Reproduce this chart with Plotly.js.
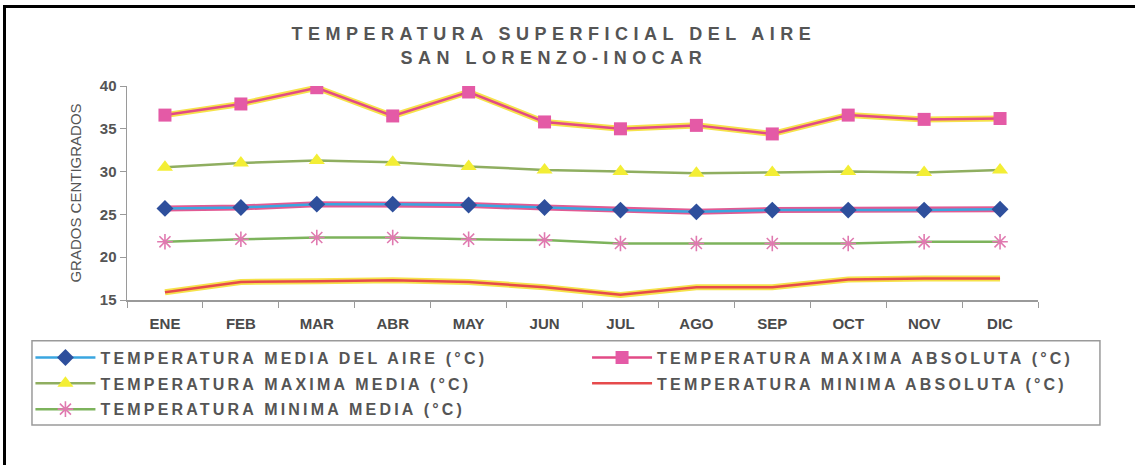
<!DOCTYPE html>
<html>
<head>
<meta charset="utf-8">
<script src="https://cdn.plot.ly/plotly-3.0.1.min.js"></script>
<style>
html,body{margin:0;padding:0;background:#fff;}
#chart{width:1135px;height:465px;}
#frame{position:absolute;left:3px;top:5px;width:1140px;height:470px;border-top:3px solid #000;border-left:3px solid #000;pointer-events:none;}
</style>
</head>
<body>
<div id="chart"></div>
<div id="frame"></div>
<script>
const months = ["ENE","FEB","MAR","ABR","MAY","JUN","JUL","AGO","SEP","OCT","NOV","DIC"];
const mediaAire   = [25.7, 25.8, 26.2, 26.2, 26.1, 25.8, 25.5, 25.3, 25.5, 25.5, 25.5, 25.6];
const maxAbsoluta = [36.6, 37.9, 39.8, 36.5, 39.3, 35.8, 35.0, 35.4, 34.4, 36.6, 36.1, 36.2];
const maxMedia    = [30.5, 31.0, 31.3, 31.1, 30.6, 30.2, 30.0, 29.8, 29.9, 30.0, 29.9, 30.2];
const minAbsoluta = [15.9, 17.1, 17.2, 17.3, 17.1, 16.5, 15.6, 16.5, 16.5, 17.4, 17.5, 17.5];
const minMedia    = [21.8, 22.1, 22.3, 22.3, 22.1, 22.0, 21.6, 21.6, 21.6, 21.6, 21.8, 21.8];
const seriesNames = [
  "TEMPERATURA MEDIA DEL AIRE (°C)",
  "TEMPERATURA MAXIMA ABSOLUTA (°C)",
  "TEMPERATURA MAXIMA MEDIA (°C)",
  "TEMPERATURA MINIMA ABSOLUTA (°C)",
  "TEMPERATURA MINIMA MEDIA (°C)"
];
const ls = t => '<span style="letter-spacing:3.2px">' + t + '</span>';

const traces = [
  // halos (no legend)
  {x: months, y: maxAbsoluta, mode: "lines", line: {color: "#f6e24a", width: 6}, showlegend: false, hoverinfo: "skip"},
  {x: months, y: minAbsoluta, mode: "lines", line: {color: "#f6e24a", width: 6}, showlegend: false, hoverinfo: "skip"},
  {x: months, y: mediaAire, mode: "lines", line: {color: "#e25a93", width: 6}, showlegend: false, hoverinfo: "skip"},
  // main series
  {x: months, y: mediaAire, name: ls(seriesNames[0]), mode: "lines+markers", legend: "legend", legendgroup: "a",
   line: {color: "#3aa6e0", width: 2.5},
   marker: {symbol: "diamond", size: 13, color: "#2e4f9c"}},
  {x: months, y: maxAbsoluta, name: ls(seriesNames[1]), mode: "lines+markers", legend: "legend2", legendgroup: "b",
   line: {color: "#e24a86", width: 2.5},
   marker: {symbol: "square", size: 13, color: "#e45aa6"}},
  {x: months, y: maxMedia, name: ls(seriesNames[2]), mode: "lines+markers", legend: "legend", legendgroup: "c",
   line: {color: "#8fae60", width: 2.5},
   marker: {symbol: "triangle-up", size: 14, color: "#f3ee35"}},
  {x: months, y: minAbsoluta, name: ls(seriesNames[3]), mode: "lines", legend: "legend2", legendgroup: "d",
   line: {color: "#e64a4c", width: 2.5}},
  {x: months, y: minMedia, name: ls(seriesNames[4]), mode: "lines+markers", legend: "legend", legendgroup: "e",
   line: {color: "#7db35c", width: 2.5},
   marker: {symbol: "asterisk-open", size: 13, color: "#e07ab0", line: {color: "#e07ab0", width: 1.6}}}
];

const legendFont = {family: "Liberation Sans, Arial, sans-serif", size: 16, color: "#555555", weight: "bold"};
const legendCommon = {
  orientation: "v", xanchor: "left", yanchor: "top",
  borderwidth: 0, bgcolor: "rgba(0,0,0,0)",
  itemwidth: 60, font: legendFont, tracegroupgap: 2, traceorder: "grouped"
};

const layout = {
  width: 1135, height: 465,
  margin: {l: 127, r: 97, t: 86, b: 165},
  paper_bgcolor: "#ffffff", plot_bgcolor: "#ffffff",
  title: {
    text: '<span style="letter-spacing:5.5px">TEMPERATURA SUPERFICIAL DEL AIRE</span><br><span style="letter-spacing:5.5px">SAN LORENZO-INOCAR</span>',
    x: 0.488, xanchor: "center", yref: "container", y: 0.913, yanchor: "top",
    font: {family: "Liberation Sans, Arial, sans-serif", size: 18, color: "#555555", weight: "bold"}
  },
  xaxis: {
    type: "category", range: [-0.5, 11.5],
    showline: true, linecolor: "#9a9a9a", linewidth: 1.5,
    ticks: "outside", tickson: "boundaries", ticklen: 6, tickcolor: "#9a9a9a",
    ticklabelstandoff: 9,
    showgrid: false, zeroline: false,
    tickfont: {family: "Liberation Sans, Arial, sans-serif", size: 15, color: "#4a4a4a", weight: "bold"}
  },
  yaxis: {
    range: [15, 40], dtick: 5,
    showline: true, linecolor: "#9a9a9a", linewidth: 1.5,
    ticks: "outside", ticklen: 6, tickcolor: "#9a9a9a",
    showgrid: false, zeroline: false,
    tickfont: {family: "Liberation Sans, Arial, sans-serif", size: 15, color: "#555555", weight: "bold"},
    title: {text: "GRADOS CENTIGRADOS", standoff: 14,
      font: {family: "Liberation Sans Narrow, Liberation Sans, Arial Narrow, sans-serif", size: 15, color: "#555555"}}
  },
  legend: Object.assign({}, legendCommon, {x: -0.106, y: -0.19}),
  legend2: Object.assign({}, legendCommon, {x: 0.505, y: -0.19}),
  shapes: [{
    type: "rect", xref: "paper", yref: "paper",
    x0: -0.1043, x1: 1.068, y0: -0.584, y1: -0.19,
    line: {color: "#9a9a9a", width: 1.5}, fillcolor: "rgba(0,0,0,0)", layer: "below"
  }],
  showlegend: true
};

Plotly.newPlot("chart", traces, layout, {displayModeBar: false, staticPlot: true});
</script>
</body>
</html>
